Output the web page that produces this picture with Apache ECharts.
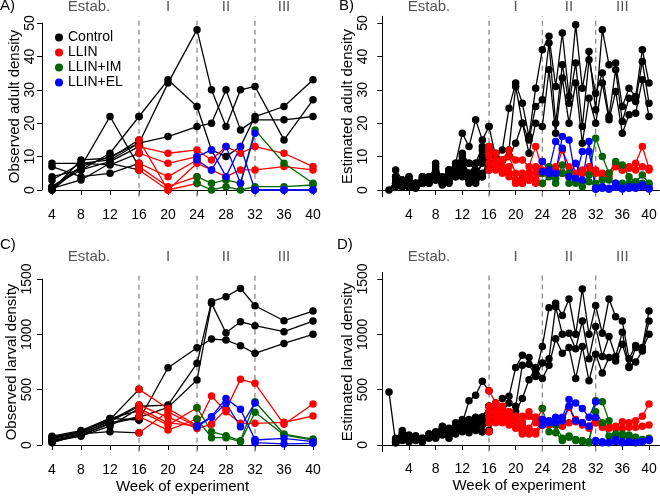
<!DOCTYPE html>
<html><head><meta charset="utf-8">
<script src="https://cdn.jsdelivr.net/npm/echarts@6/dist/echarts.min.js"></script>
<style>html,body{margin:0;padding:0;background:#fff}#c{width:660px;height:500px}</style>
</head><body><div id="c"></div><script>
// ---------- DATA ----------
const treatments = ['Control', 'LLIN', 'LLIN+IM', 'LLIN+EL'];
const phaseNames = ['Estab.', 'I', 'II', 'III'];
const phaseBreaks = [16, 24, 32];
const xTicks = [4, 8, 12, 16, 20, 24, 28, 32, 36, 40];
const adultTicks = [0, 10, 20, 30, 40, 50];
const larvalTicks = [0, 500, 1000, 1500];

// observed sampling weeks
const weeksEstabObs = [4, 8, 12, 16];
const weeksP1Obs = [16, 20, 24];
const weeksCtrlObs = [16, 20, 24, 26, 28, 30, 32, 36, 40];
const weeksTrtObs = [24, 26, 28, 30, 32, 36, 40];
const weeksP2Obs = [24, 26, 28, 30, 32];
const weeksP3Obs = [32, 36, 40];
// estimated weekly
const weeksEstabEst = [1, 2, 3, 4, 5, 6, 7, 8, 9, 10, 11, 12, 13, 14, 15, 16];
const weeksP1Est = [16, 17, 18, 19, 20, 21, 22, 23, 24];
const weeksCtrlEst = [16, 17, 18, 19, 20, 21, 22, 23, 24, 25, 26, 27, 28, 29, 30, 31, 32, 33, 34, 35, 36, 37, 38, 39, 40];
const weeksTrtEst = [24, 25, 26, 27, 28, 29, 30, 31, 32, 33, 34, 35, 36, 37, 38, 39, 40];
const weeksP2Est = [24, 25, 26, 27, 28, 29, 30, 31, 32];
const weeksP3Est = [32, 33, 34, 35, 36, 37, 38, 39, 40];

// ---- Panel A: observed adult density ----
const obsAdultEstab = [
  [1, 6, 11, 22], [0, 7, 10, 14], [3, 8, 9, 14],
  [0, 9, 9.5, 15], [4, 6, 8.5, 13], [8, 8, 7.5, 11], [7, 4, 5, 8], [1, 7, 22, 7], [0.5, 3, 8, 6]
];
const obsAdultCtrl = [
  [22, 33, 25, 12, 10, 13, 22, 25, 33],
  [14, 32, 48, 30, 19, 30, 31, 15, 27],
  [14, 16, 19, 20, 30, 18, 21, 21, 22]
];
const obsAdultLLIN = [
  [15, 0, 8, 6, 4, 6, 6, 7, 6],
  [13, 11, 12, 9, 13, 11, 13, 11, 7]
];
const obsAdultLLINP1 = [[11, 8, 10], [8, 4, 9], [7, 1, 4], [6, 0, 2]];
const obsAdultIM = [[4, 2, 3, 2, 18, 8, 2], [2, 0, 1, 0, 1, 1, 1.5]];
const obsAdultELP2 = [[10, 12, 4, 13, 0], [9, 6, 13, 2, 17]];
const obsAdultELP3 = [[0, 0, 0], [0, 0, 0]];

// ---- Panel B: estimated adult density ----
const estAdultEstab = [
  [0, 3, 2, 3, 2, 3, 4, 5, 2, 6, 8, 17, 13, 21, 15, 19],
  [null, 6, 3, 4, 1, 4, 3, 8, 3, 5, 7, 11, 8, 8, 13, 12],
  [null, 2, 1, 2, 1, 2, 3, 3, 2, 3, 4, 5, 3, 5, 4, 11],
  [null, 4, 2, 4, 2, 3, 2.5, 6, 4, 6, 6, 10, 8, 6, 12, 13],
  [null, 2, 3, 1, 1, 2, 3, 4, 1.5, 2.5, 5, 8, 5, 3, 9, 12],
  [null, 3, 1, 2, 0.5, 3, 4, 3, 3, 4, 8, 9, 5, 8, 10, 11],
  [null, 1, 2, 1, 1, 2, 2, 5, 2, 2, 5, 6, 3, 4, 8, 10],
  [null, 2, 1, 3, 2, 3, 3, 7, 3, 5, 4, 7, 4, 3, 5, 8],
  [null, 4, 2, 1, 1, 4, 2, 4, 2, 6, 6, 4, 2, 2, 4, 6]
];
const estAdultCtrl = [
  [19, 10, 12, 24.5, 32, 26, 16, 30.5, 42, 46, 31, 47, 28, 49.5, 30.5, 41.5, 24, 48, 37.5, 38, 25, 30.5, 28, 42, 32],
  [12, 11, 6, 12, 31, 20, 15, 25, 27, 44, 20, 37.5, 26, 38, 19, 39, 29, 35, 22, 36, 20.5, 27.5, 26.5, 38.5, 26],
  [11, 8, 9, 10, 14, 20, 11, 20, 19, 36, 17, 33.5, 20, 32, 14, 27.5, 20, 32, 21, 29.5, 17, 22.5, 23, 33, 22]
];
const estAdultLLIN = [
  [13, 11, 9, 12, 9, 9, 7, 13, 6, 7, 6, 12, 7, 5, 6, 7, 6, 5, 4, 7, 6, 6.5, 8, 13, 6.5],
  [12, 9, 7, 10, 5, 5, 5, 7, 5, 5, 7, 5, 4, 4.5, 5, 5, 5, 4, 5, 8, 6, 7, 6, 7, 6]
];
const estAdultLLINP1 = [
  [11, 8, 6, 7, 3, 4, 3, 5, 8.5],
  [10, 6, 5, 5, 2, 3, 5, 3, 5.5],
  [8, 7, 9, 4, 3, 2, 3, 3, 5],
  [6, 9, 6, 5, 2, 2, 3, 2, 2]
];
const estAdultIM = [
  [5, 7, 2, 7.5, 2, 3, 1, 4.5, 15.5, 10, 5, 8.5, 7.5, 4, 2.5, 4.5, 2],
  [2, 4, 3.5, 5, 5, 2, 2.5, 2.5, 2, 3, 3, 2, 2, 2, 1.5, 2, 1.5]
];
const estAdultELP2 = [
  [8.5, 6, 14.5, 12.5, 4, 8, 3, 14.5, 0.5],
  [5.5, 5, 5, 16, 15, 3.5, 11.5, 11.5, 0.3]
];
const estAdultELP3 = [
  [0.5, 1, 0.5, 2, 0.3, 1, 0.5, 1.5, 0.5],
  [0.3, 0.5, 0.2, 0.8, 0.5, 0.5, 1, 1, 0.3]
];

// ---- Panel C: observed larval density ----
const obsLarvEstab = [
  [80, 130, 240, 226], [60, 110, 210, 350], [40, 90, 190, 250],
  [70, 120, 230, 503], [50, 100, 220, 361], [30, 80, 170, 331], [20, 100, 120, 110], [60, 120, 240, 310], [35, 90, 200, 256]
];
const obsLarvCtrl = [
  [226, 698, 879, 958, 948, 897, 828, 918, 1000],
  [350, 361, 738, 1295, 1340, 1415, 1258, 1123, 1210],
  [250, 340, 587, 1280, 1015, 1114, 1078, 1024, 1120]
];
const obsLarvLLIN = [
  [503, 330, 175, 443, 300, 196, 196, 205, 262],
  [361, 250, 150, 187, 322, 593, 557, 187, 370]
];
const obsLarvLLINP1 = [[331, 200, 174], [110, 300, 165], [310, 180, 337], [256, 135, 235]];
const obsLarvIM = [[337, 120, 84, 39, 391, 99, 54], [235, 66, 66, 30, 295, 90, 45]];
const obsLarvELP2 = [[174, 256, 421, 322, 50], [165, 250, 376, 165, 380]];
const obsLarvELP3 = [[45, 60, 30], [21, 10, 15]];

// ---- Panel D: estimated larval density ----
const estLarvEstab = [
  [478, 20, 80, 50, 60, 30, 70, 80, 120, 110, 150, 180, 200, 250, 250, 350],
  [null, 60, 130, 90, 80, 60, 100, 120, 170, 150, 200, 230, 200, 150, 250, 250],
  [null, 40, 40, 30, 50, 30, 70, 60, 90, 60, 100, 130, 130, 150, 120, 130],
  [null, 30, 100, 70, 60, 50, 80, 100, 120, 110, 150, 200, 400, 450, 575, 490],
  [null, 50, 60, 40, 50, 40, 90, 80, 140, 100, 180, 160, 180, 200, 250, 350],
  [null, 20, 90, 60, 70, 50, 60, 90, 100, 130, 120, 220, 230, 180, 200, 300],
  [null, 30, 50, 80, 40, 60, 80, 110, 120, 90, 140, 170, 150, 200, 220, 250],
  [null, 40, 70, 50, 80, 40, 100, 70, 150, 120, 160, 140, 170, 130, 180, 200],
  [null, 25, 110, 40, 60, 50, 70, 90, 110, 140, 130, 120, 110, 170, 120, 120]
];
const estLarvCtrl = [
  [350, 380, 420, 440, 700, 810, 790, 650, 890, 1240, 1280, 1170, 1320, 1000, 1410, 1000, 1260, 1010, 1320, 1160, 1120, 780, 900, 880, 1210],
  [250, 300, 300, 380, 350, 720, 730, 620, 740, 780, 1250, 1000, 1010, 870, 1120, 780, 1070, 800, 980, 800, 1020, 700, 750, 850, 1120],
  [130, 250, 280, 280, 300, 420, 590, 700, 600, 720, 960, 830, 880, 600, 890, 580, 820, 650, 790, 760, 910, 710, 880, 860, 1000]
];
const estLarvLLIN = [
  [490, 380, 350, 300, 260, 260, 300, 250, 200, 200, 190, 200, 340, 210, 200, 150, 200, 190, 160, 170, 210, 200, 220, 260, 370],
  [350, 300, 260, 250, 220, 150, 130, 120, 180, 180, 180, 170, 200, 230, 180, 170, 200, 160, 150, 150, 150, 160, 160, 170, 180]
];
const estLarvLLINP1 = [
  [300, 250, 230, 200, 180, 120, 100, 100, 180],
  [250, 200, 200, 180, 150, 100, 130, 120, 230],
  [200, 350, 300, 250, 260, 200, 260, 200, 330],
  [120, 300, 230, 300, 200, 180, 150, 250, 230]
];
const estLarvIM = [
  [330, 120, 110, 40, 70, 50, 40, 20, 400, 390, 220, 100, 100, 90, 70, 50, 60],
  [230, 200, 180, 60, 80, 40, 30, 30, 300, 200, 80, 80, 80, 70, 50, 40, 50]
];
const estLarvELP2 = [
  [180, 200, 250, 250, 410, 380, 330, 250, 390],
  [230, 220, 200, 220, 350, 220, 200, 170, 250]
];
const estLarvELP3 = [
  [40, 30, 25, 30, 20, 30, 20, 30, 40],
  [30, 20, 20, 50, 30, 25, 25, 30, 50]
];

// ---------- STYLE / LAYOUT ----------
const COLORS = { 'Control': '#000000', 'LLIN': '#ff0000', 'LLIN+IM': '#006400', 'LLIN+EL': '#0000ff' };
const FONT = '"Liberation Sans", Arial, Helvetica, sans-serif';
const chart = echarts.init(document.getElementById('c'), null, { renderer: 'canvas' });

function pts(weeks, vals) {
  const out = [];
  weeks.forEach((w, i) => { if (vals[i] != null) out.push([w, vals[i]]); });
  return out;
}
function line(g, weeks, vals, grp) {
  return {
    type: 'line', name: grp, xAxisIndex: g, yAxisIndex: g, data: pts(weeks, vals),
    symbol: 'circle', symbolSize: 7.5, showSymbol: true, clip: false, silent: true,
    lineStyle: { color: COLORS[grp], width: 1.3 }, itemStyle: { color: COLORS[grp] },
    emphasis: { disabled: true }, animation: false
  };
}
function dashes(g, lo, hi) {
  return phaseBreaks.map(b => ({
    type: 'line', xAxisIndex: g, yAxisIndex: g, data: [[b, lo], [b, hi]], symbol: 'none', clip: false, silent: true,
    lineStyle: { color: '#8a8a8a', width: 1.3, type: [5, 4] }, animation: false
  }));
}
function panel(g, d, lo, hi) {
  const s = [];
  s.push(...dashes(g, lo, hi));
  d.estab.forEach(v => s.push(line(g, d.wEstab, v, 'Control')));
  d.ctrl.forEach(v => s.push(line(g, d.wCtrl, v, 'Control')));
  d.llinP1.forEach(v => s.push(line(g, d.wP1, v, 'LLIN')));
  d.llin.forEach(v => s.push(line(g, d.wCtrl, v, 'LLIN')));
  d.im.forEach(v => s.push(line(g, d.wTrt, v, 'LLIN+IM')));
  d.elP2.forEach(v => s.push(line(g, d.wP2, v, 'LLIN+EL')));
  d.elP3.forEach(v => s.push(line(g, d.wP3, v, 'LLIN+EL')));
  return s;
}
const obsW = { wEstab: weeksEstabObs, wCtrl: weeksCtrlObs, wP1: weeksP1Obs, wTrt: weeksTrtObs, wP2: weeksP2Obs, wP3: weeksP3Obs };
const estW = { wEstab: weeksEstabEst, wCtrl: weeksCtrlEst, wP1: weeksP1Est, wTrt: weeksTrtEst, wP2: weeksP2Est, wP3: weeksP3Est };

const series = [].concat(
  panel(0, Object.assign({ estab: obsAdultEstab, ctrl: obsAdultCtrl, llinP1: obsAdultLLINP1, llin: obsAdultLLIN, im: obsAdultIM, elP2: obsAdultELP2, elP3: obsAdultELP3 }, obsW), -2, 52),
  panel(1, Object.assign({ estab: estAdultEstab, ctrl: estAdultCtrl, llinP1: estAdultLLINP1, llin: estAdultLLIN, im: estAdultIM, elP2: estAdultELP2, elP3: estAdultELP3 }, estW), -2, 52),
  panel(2, Object.assign({ estab: obsLarvEstab, ctrl: obsLarvCtrl, llinP1: obsLarvLLINP1, llin: obsLarvLLIN, im: obsLarvIM, elP2: obsLarvELP2, elP3: obsLarvELP3 }, obsW), -60, 1560),
  panel(3, Object.assign({ estab: estLarvEstab, ctrl: estLarvCtrl, llinP1: estLarvLLINP1, llin: estLarvLLIN, im: estLarvIM, elP2: estLarvELP2, elP3: estLarvELP3 }, estW), -60, 1560)
);

const axLine = { show: true, lineStyle: { color: '#000', width: 1 } };
const axTick = { show: true, length: 5, lineStyle: { color: '#000', width: 1 } };
const fmt = v => String(v);
const lbl = { color: '#000', fontSize: 14, fontFamily: FONT, formatter: fmt };
const nameStyle = { color: '#000', fontSize: 15, fontFamily: FONT };

function xAx(g, opts) {
  return Object.assign({
    type: 'value', gridIndex: g, splitLine: { show: false },
    axisLine: axLine, axisTick: Object.assign({}, axTick), axisLabel: Object.assign({ margin: 11 }, lbl),
    nameTextStyle: nameStyle
  }, opts);
}
function yAx(g, opts) {
  return Object.assign({
    type: 'value', gridIndex: g, splitLine: { show: false },
    axisLine: axLine, axisTick: Object.assign({}, axTick),
    nameLocation: 'middle', nameTextStyle: nameStyle
  }, opts);
}

const option = {
  animation: false,
  backgroundColor: '#fff',
  textStyle: { fontFamily: FONT },
  grid: [
    { left: 52, top: 23, width: 261, height: 167 },
    { left: 378.6, top: 16.3, width: 280.8, height: 180.4 },
    { left: 52, top: 279, width: 261, height: 166 },
    { left: 378.6, top: 272.4, width: 280.8, height: 179.2 }
  ],
  xAxis: [
    xAx(0, { min: 4, max: 40, interval: 4, offset: 7 }),
    xAx(1, { min: -0.56, max: 41.56, axisTick: Object.assign({ customValues: xTicks }, axTick), axisLabel: Object.assign({ margin: 11, customValues: xTicks }, lbl) }),
    xAx(2, { min: 4, max: 40, interval: 4, offset: 7, name: 'Week of experiment', nameLocation: 'middle', nameGap: 27 }),
    xAx(3, { min: -0.56, max: 41.56, axisTick: Object.assign({ customValues: xTicks }, axTick), axisLabel: Object.assign({ margin: 11, customValues: xTicks }, lbl), name: 'Week of experiment', nameLocation: 'middle', nameGap: 27 })
  ],
  yAxis: [
    yAx(0, { min: 0, max: 50, interval: 10, offset: 10, name: 'Observed adult density', nameGap: 11, axisLabel: Object.assign({ rotate: 90, margin: 5 }, lbl) }),
    yAx(1, { min: -2, max: 52, name: 'Estimated adult density', nameGap: 20,
      axisTick: Object.assign({ customValues: adultTicks }, axTick), axisLabel: Object.assign({ rotate: 90, margin: 8, customValues: adultTicks }, lbl) }),
    yAx(2, { min: 0, max: 1500, interval: 500, offset: 10, name: 'Observed larval density', nameGap: 21, axisLabel: Object.assign({ rotate: 90, margin: 8 }, lbl) }),
    yAx(3, { min: -60, max: 1560, name: 'Estimated larval density', nameGap: 23,
      axisTick: Object.assign({ customValues: larvalTicks }, axTick), axisLabel: Object.assign({ rotate: 90, margin: 8, customValues: larvalTicks }, lbl) })
  ],
  legend: {
    left: 50, top: 25, orient: 'vertical', itemGap: 0, itemWidth: 8, itemHeight: 8, icon: 'circle',
    textStyle: { color: '#000', fontSize: 14, fontFamily: FONT, lineHeight: 15 },
    data: treatments.map(t => ({ name: t, icon: 'circle', itemStyle: { color: COLORS[t] } })),
    selectedMode: false
  },
  series: series
};
chart.setOption(option);

// text labels (panel letters + phase names) placed via axis scales
const phaseX = { obs: [9.1, 20, 28, 36], est: [7.0, 20, 28, 36] };
const panelMeta = [
  { g: 0, letter: 'A)', lx: 0, ly: -2, px: phaseX.obs, py: 7 },
  { g: 1, letter: 'B)', lx: 339, ly: -2, px: phaseX.est, py: 7 },
  { g: 2, letter: 'C)', lx: 0, ly: 237, px: phaseX.obs, py: 257 },
  { g: 3, letter: 'D)', lx: 337, ly: 237, px: phaseX.est, py: 257 }
];
const graphics = [];
panelMeta.forEach(m => {
  graphics.push({ type: 'text', left: m.lx, top: m.ly, silent: true,
    style: { text: m.letter, font: '15px ' + FONT, fill: '#000' } });
  m.px.forEach((w, i) => {
    const x = chart.convertToPixel({ xAxisIndex: m.g }, w);
    graphics.push({ type: 'text', x: x, y: m.py, silent: true,
      style: { text: phaseNames[i], font: '15px ' + FONT, fill: '#555', align: 'center', verticalAlign: 'middle' } });
  });
});
chart.setOption({ graphic: graphics });
</script></body></html>
